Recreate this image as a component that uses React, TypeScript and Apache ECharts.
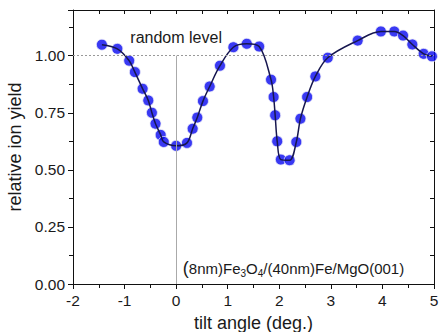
import React, { useEffect, useRef } from "react";
import * as echarts from "echarts";

const tiltAngles = [
  -1.44, -1.14, -0.91, -0.8, -0.65, -0.54, -0.47, -0.4, -0.3, -0.24, 0.0, 0.21, 0.32, 0.41, 0.52, 0.65, 0.85,
  1.11, 1.37, 1.61, 1.84, 1.89, 1.92, 1.96, 2.03, 2.2, 2.33, 2.41, 2.54, 2.7, 2.94, 3.52, 3.97, 4.23, 4.4,
  4.58, 4.8, 4.96,
];
const ionYield = [
  1.048, 1.03, 0.978, 0.928, 0.855, 0.804, 0.75, 0.702, 0.653, 0.622, 0.605, 0.618, 0.68, 0.729, 0.801, 0.865,
  0.956, 1.037, 1.052, 1.04, 0.895, 0.819, 0.739, 0.625, 0.545, 0.542, 0.622, 0.724, 0.819, 0.909, 0.991, 1.066,
  1.106, 1.106, 1.088, 1.049, 1.008, 0.997,
];
const xTicks = [-2, -1, 0, 1, 2, 3, 4, 5];
const yTicks = [0, 0.25, 0.5, 0.75, 1.0];
const randomLevel = 1.0;
const labelRandom = "random level";
const sampleName = "{b|(}8nm)Fe{s|3}O{s|4}/(40nm)Fe/MgO(001)";

const FONT = "Liberation Sans, Arial, sans-serif";
const INK = "#1a1a1a";

export default function App() {
  const ref = useRef<HTMLDivElement>(null);
  useEffect(() => {
    if (!ref.current) return;
    const chart = echarts.init(ref.current, null, { renderer: "svg" });
    const pts = tiltAngles.map((x, i) => [x, ionYield[i]]);
    const axisLine = { onZero: false, lineStyle: { color: "#111", width: 1 } };
    chart.setOption({
      animation: false,
      backgroundColor: "#fff",
      grid: { left: 73, right: 5, top: 10, bottom: 48, containLabel: false, outerBoundsMode: "none" },
      xAxis: [
        {
          type: "value",
          min: xTicks[0],
          max: xTicks[xTicks.length - 1],
          interval: 1,
          name: "tilt angle (deg.)",
          nameLocation: "middle",
          nameGap: 30,
          nameTextStyle: { fontFamily: FONT, fontSize: 18, color: INK },
          axisLine,
          splitLine: { show: false },
          axisTick: { show: true, inside: false, length: 5, lineStyle: { color: "#111" } },
          minorTick: { show: true, splitNumber: 2, length: 4, lineStyle: { color: "#111" } },
          axisLabel: { fontFamily: FONT, fontSize: 15.5, color: INK, margin: 8 },
        },
        {
          type: "value",
          position: "top",
          min: xTicks[0],
          max: xTicks[xTicks.length - 1],
          interval: 1,
          axisLine,
          splitLine: { show: false },
          axisTick: { show: true, inside: true, length: 4, lineStyle: { color: "#111" } },
          minorTick: { show: true, splitNumber: 2, length: 4, lineStyle: { color: "#111" } },
          axisLabel: { show: false },
        },
      ],
      yAxis: [
        {
          type: "value",
          min: yTicks[0],
          max: 1.2,
          interval: 0.25,
          name: "relative ion yield",
          nameLocation: "middle",
          nameGap: 42,
          nameTextStyle: { fontFamily: FONT, fontSize: 18, color: INK },
          axisLine,
          splitLine: { show: false },
          axisTick: { show: true, inside: false, length: 5, lineStyle: { color: "#111" } },
          minorTick: { show: true, splitNumber: 2, length: 4, lineStyle: { color: "#111" } },
          axisLabel: {
            fontFamily: FONT,
            fontSize: 15.5,
            color: INK,
            margin: 8,
            showMaxLabel: false,
            formatter: (v: number) => (yTicks.some((t) => Math.abs(t - v) < 1e-6) ? v.toFixed(2) : ""),
          },
        },
        {
          type: "value",
          position: "right",
          min: yTicks[0],
          max: 1.2,
          interval: 0.25,
          axisLine,
          splitLine: { show: false },
          axisTick: { show: true, inside: true, length: 4, lineStyle: { color: "#111" } },
          minorTick: { show: true, splitNumber: 2, length: 4, lineStyle: { color: "#111" } },
          axisLabel: { show: false },
        },
      ],
      series: [
        {
          type: "scatter",
          data: pts,
          symbol: "circle",
          symbolSize: 11,
          itemStyle: { color: "#0808f0", borderColor: "#eeeef8", borderWidth: 1 },
          z: 2,
          markLine: {
            silent: true,
            symbol: "none",
            label: { show: false },
            data: [
              [
                { coord: [xTicks[0], randomLevel] },
                { coord: [xTicks[xTicks.length - 1], randomLevel] },
              ],
            ],
            lineStyle: { color: "#999", type: [2, 2], width: 1 },
          },
        },
        {
          type: "line",
          data: pts,
          smooth: 0.35,
          showSymbol: false,
          lineStyle: { color: "#16164f", width: 1.5 },
          z: 3,
          markLine: {
            silent: true,
            symbol: "none",
            label: { show: false },
            data: [[{ coord: [0, randomLevel] }, { coord: [0, 0] }]],
            lineStyle: { color: "#aaa", type: "solid", width: 1 },
          },
        },
      ],
    });
    const p1 = chart.convertToPixel({ gridIndex: 0 }, [0, 1.08]) as number[];
    const p2 = chart.convertToPixel({ gridIndex: 0 }, [0.13, 0.07]) as number[];
    chart.setOption({
      graphic: [
        {
          type: "text",
          x: p1[0],
          y: p1[1],
          style: {
            text: labelRandom,
            fontFamily: FONT,
            fontSize: 16,
            fill: INK,
            align: "center",
            verticalAlign: "middle",
          },
        },
        {
          type: "text",
          x: p2[0],
          y: p2[1],
          style: {
            text: sampleName,
            fontFamily: FONT,
            fontSize: 15,
            fill: INK,
            align: "left",
            verticalAlign: "middle",
            lineHeight: 20,
            rich: {
              b: { fontSize: 18, lineHeight: 20, fontFamily: FONT, fill: INK },
              s: { fontSize: 10, lineHeight: 12, verticalAlign: "bottom", fontFamily: FONT, fill: INK },
            },
          },
        },
      ],
    });
    return () => chart.dispose();
  }, []);
  return (
    <div
      ref={ref}
      style={{ position: "fixed", left: 0, top: 0, width: 439, height: 332, background: "#fff" }}
    />
  );
}
